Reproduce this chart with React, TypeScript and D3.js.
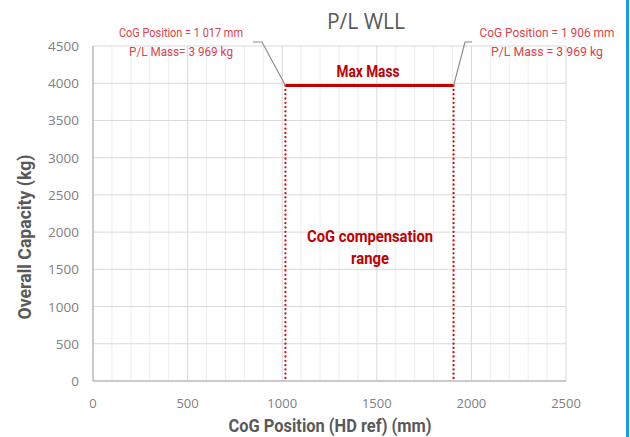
import React from "react";
import * as d3 from "d3";

const xTicks = [0, 500, 1000, 1500, 2000, 2500];
const yTicks = [0, 500, 1000, 1500, 2000, 2500, 3000, 3500, 4000, 4500];
const cogMin = 1017;
const cogMax = 1906;
const plMass = 3969;
const title = "P/L WLL";
const leftNote = ["CoG Position = 1 017 mm", "P/L Mass= 3 969 kg"];
const rightNote = ["CoG Position = 1 906 mm", "P/L Mass =  3 969 kg"];
const rangeLabel = ["CoG compensation", "range"];
const xTitle = "CoG Position (HD ref) (mm)";
const yTitle = "Overall Capacity (kg)";

const W = 630, H = 437;
const L = 93, R = 566, T = 46, B = 381;
const cond = "Roboto, 'DejaVu Sans', sans-serif";
const tickFont = "'Open Sans', 'DejaVu Sans', sans-serif";

type CT = { x: number; y: number; w: number; size: number; bold?: boolean; fill: string; text: string };
function CText({ x, y, w, size, bold, fill, text }: CT) {
  return (
    <text x={x - w / 2} y={y} textLength={w} lengthAdjust="spacingAndGlyphs"
      fontFamily={cond} fontSize={size} fontWeight={bold ? "bold" : "normal"} fill={fill}>{text}</text>
  );
}

export default function App() {
  const x = d3.scaleLinear().domain([0, 2500]).range([L, R]);
  const y = d3.scaleLinear().domain([0, 4500]).range([B, T]);
  const minor = d3.range(0, 2501, 100);
  const yM = y(plMass);
  const leftLeader = d3.line()([[253, 42], [262, 42], [x(cogMin), yM]]) || "";
  const rightLeader = d3.line()([[x(cogMax), yM], [465, 42], [472, 42]]) || "";
  const noteW = [[124, 104], [135, 112]];
  return (
    <svg width={W} height={H} style={{ position: "absolute", left: 0, top: 0, background: "#fff" }}>
      <rect x={0} y={0} width={W} height={H} fill="#fff" />
      {minor.map((v) => (
        <line key={"m" + v} x1={x(v)} x2={x(v)} y1={T} y2={B} stroke={v % 500 === 0 ? "#d9d9d9" : "#ededed"} strokeWidth={1} />
      ))}
      {yTicks.map((v) => (
        <line key={"h" + v} x1={L} x2={R} y1={y(v)} y2={y(v)} stroke="#d9d9d9" strokeWidth={1} />
      ))}
      <line x1={L} x2={L} y1={T} y2={B} stroke="#bfbfbf" strokeWidth={1.5} />
      <line x1={L} x2={R} y1={B} y2={B} stroke="#bfbfbf" strokeWidth={1.5} />
      {yTicks.map((v) => (
        <text key={"yt" + v} x={79} y={y(v) + 5} textAnchor="end" fontFamily={tickFont} fontSize={13.5} fill="#808080">{v}</text>
      ))}
      {xTicks.map((v) => (
        <text key={"xt" + v} x={x(v)} y={408} textAnchor="middle" fontFamily={tickFont} fontSize={13} fill="#808080">{v}</text>
      ))}
      <line x1={x(cogMin)} x2={x(cogMin)} y1={yM} y2={B} stroke="#e00000" strokeWidth={2.2} strokeDasharray="0.1 4.2" strokeLinecap="round" />
      <line x1={x(cogMax)} x2={x(cogMax)} y1={yM} y2={B} stroke="#e00000" strokeWidth={2.2} strokeDasharray="0.1 4.2" strokeLinecap="round" />
      <line x1={x(cogMin)} x2={x(cogMax)} y1={yM} y2={yM} stroke="#c00000" strokeWidth={3} />
      <path d={leftLeader} fill="none" stroke="#8c8c8c" strokeWidth={1.2} />
      <path d={rightLeader} fill="none" stroke="#8c8c8c" strokeWidth={1.2} />
      <text x={366} y={29} textAnchor="middle" fontFamily={tickFont} fontSize={21} fill="#595959">{title}</text>
      {leftNote.map((t, i) => (
        <CText key={"ln" + i} x={181} y={37 + i * 19} w={noteW[0][i]} size={13} fill="#d9434a" text={t} />
      ))}
      {rightNote.map((t, i) => (
        <CText key={"rn" + i} x={547} y={37 + i * 19} w={noteW[1][i]} size={13} fill="#d9434a" text={t} />
      ))}
      <CText x={368} y={77} w={63} size={17} bold fill="#c00000" text="Max Mass" />
      <CText x={370} y={242} w={126} size={17} bold fill="#c00000" text={rangeLabel[0]} />
      <CText x={370} y={264} w={38} size={17} bold fill="#c00000" text={rangeLabel[1]} />
      <CText x={330} y={432} w={203} size={19} bold fill="#595959" text={xTitle} />
      <g transform={`translate(31,237) rotate(-90)`}>
        <CText x={0} y={0} w={165} size={19} bold fill="#595959" text={yTitle} />
      </g>
      <line x1={627.5} x2={627.5} y1={0} y2={H} stroke="#1a9bd7" strokeWidth={3} />
    </svg>
  );
}
